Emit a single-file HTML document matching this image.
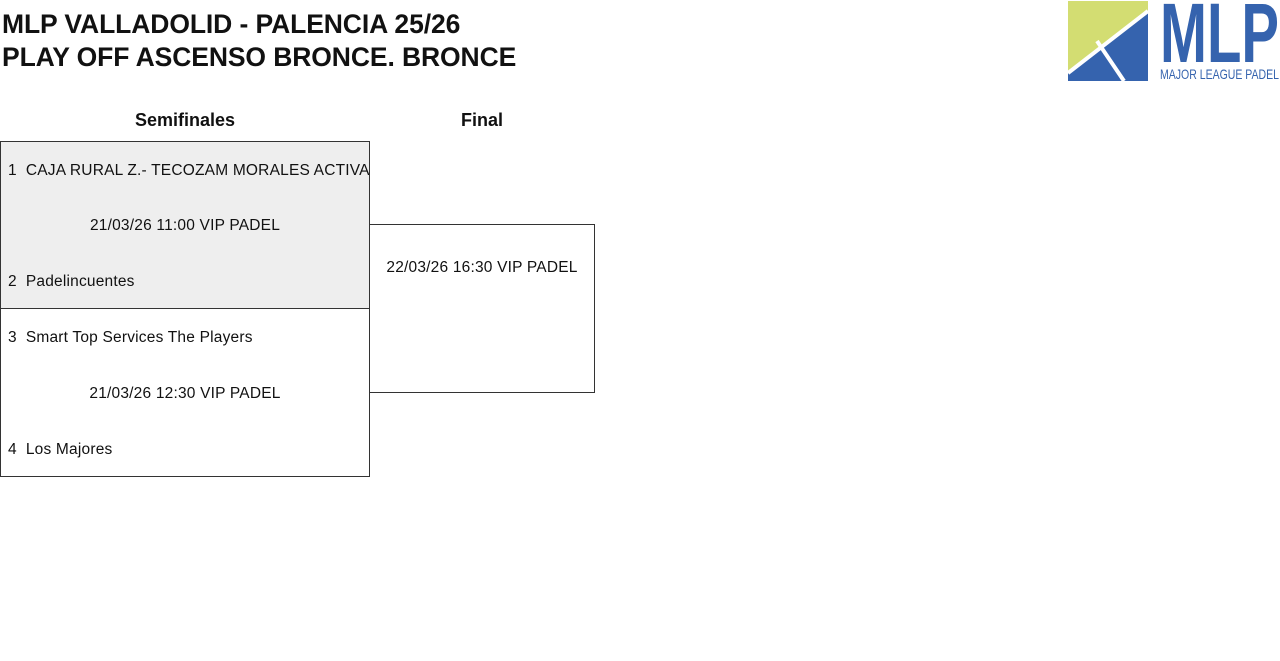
<!DOCTYPE html>
<html><head><meta charset="utf-8"><style>
body{margin:0;width:1280px;height:661px;background:#fff;font-family:"Liberation Sans",sans-serif;color:#111;position:relative;overflow:hidden}
.a{position:absolute;white-space:nowrap}
.t{font-size:26.5px;font-weight:bold;left:2px;letter-spacing:-0.1px}
.h{font-size:18px;font-weight:bold;transform:translateX(-50%)}
.s{font-size:15.5px;letter-spacing:0.2px}
.box{position:absolute;border:1px solid #333;box-sizing:border-box}
</style></head><body>
<div class="a t" style="top:9px">MLP VALLADOLID - PALENCIA 25/26</div>
<div class="a t" style="top:42px">PLAY OFF ASCENSO BRONCE. BRONCE</div>
<svg class="a" style="left:1068px;top:1px" width="212" height="80" viewBox="0 0 212 80">
<rect x="0" y="0" width="80" height="80" fill="#d3dd72"/>
<polygon points="80,12 80,80 0,80 0,70" fill="#3563ae"/>
<line x1="0" y1="72" x2="80" y2="10" stroke="#fff" stroke-width="4"/>
<line x1="29" y1="40" x2="56" y2="80" stroke="#fff" stroke-width="4"/>
<text x="92" y="61" font-family="Liberation Sans" font-weight="bold" font-size="84" fill="#3563ae" textLength="119" lengthAdjust="spacingAndGlyphs">MLP</text>
<text x="92" y="78" font-family="Liberation Sans" font-size="14" fill="#3563ae" textLength="119" lengthAdjust="spacingAndGlyphs">MAJOR LEAGUE PADEL</text>
</svg>
<div class="a h" style="left:185px;top:110px">Semifinales</div>
<div class="a h" style="left:482px;top:110px">Final</div>
<div class="box" style="left:0;top:141px;width:370px;height:168px;background:#eee;overflow:hidden">
<div class="a s" style="left:7px;top:20px">1&nbsp;&nbsp;CAJA RURAL Z.- TECOZAM MORALES ACTIVA I</div>
<div class="a s" style="left:0;width:368px;text-align:center;top:75px">21/03/26 11:00 VIP PADEL</div>
<div class="a s" style="left:7px;top:131px">2&nbsp;&nbsp;Padelincuentes</div>
</div>
<div class="box" style="left:0;top:308px;width:370px;height:169px">
<div class="a s" style="left:7px;top:20px">3&nbsp;&nbsp;Smart Top Services The Players</div>
<div class="a s" style="left:0;width:368px;text-align:center;top:76px">21/03/26 12:30 VIP PADEL</div>
<div class="a s" style="left:7px;top:132px">4&nbsp;&nbsp;Los Majores</div>
</div>
<div class="box" style="left:369px;top:224px;width:226px;height:169px">
<div class="a s" style="left:0;width:224px;text-align:center;top:34px">22/03/26 16:30 VIP PADEL</div>
</div>
</body></html>
